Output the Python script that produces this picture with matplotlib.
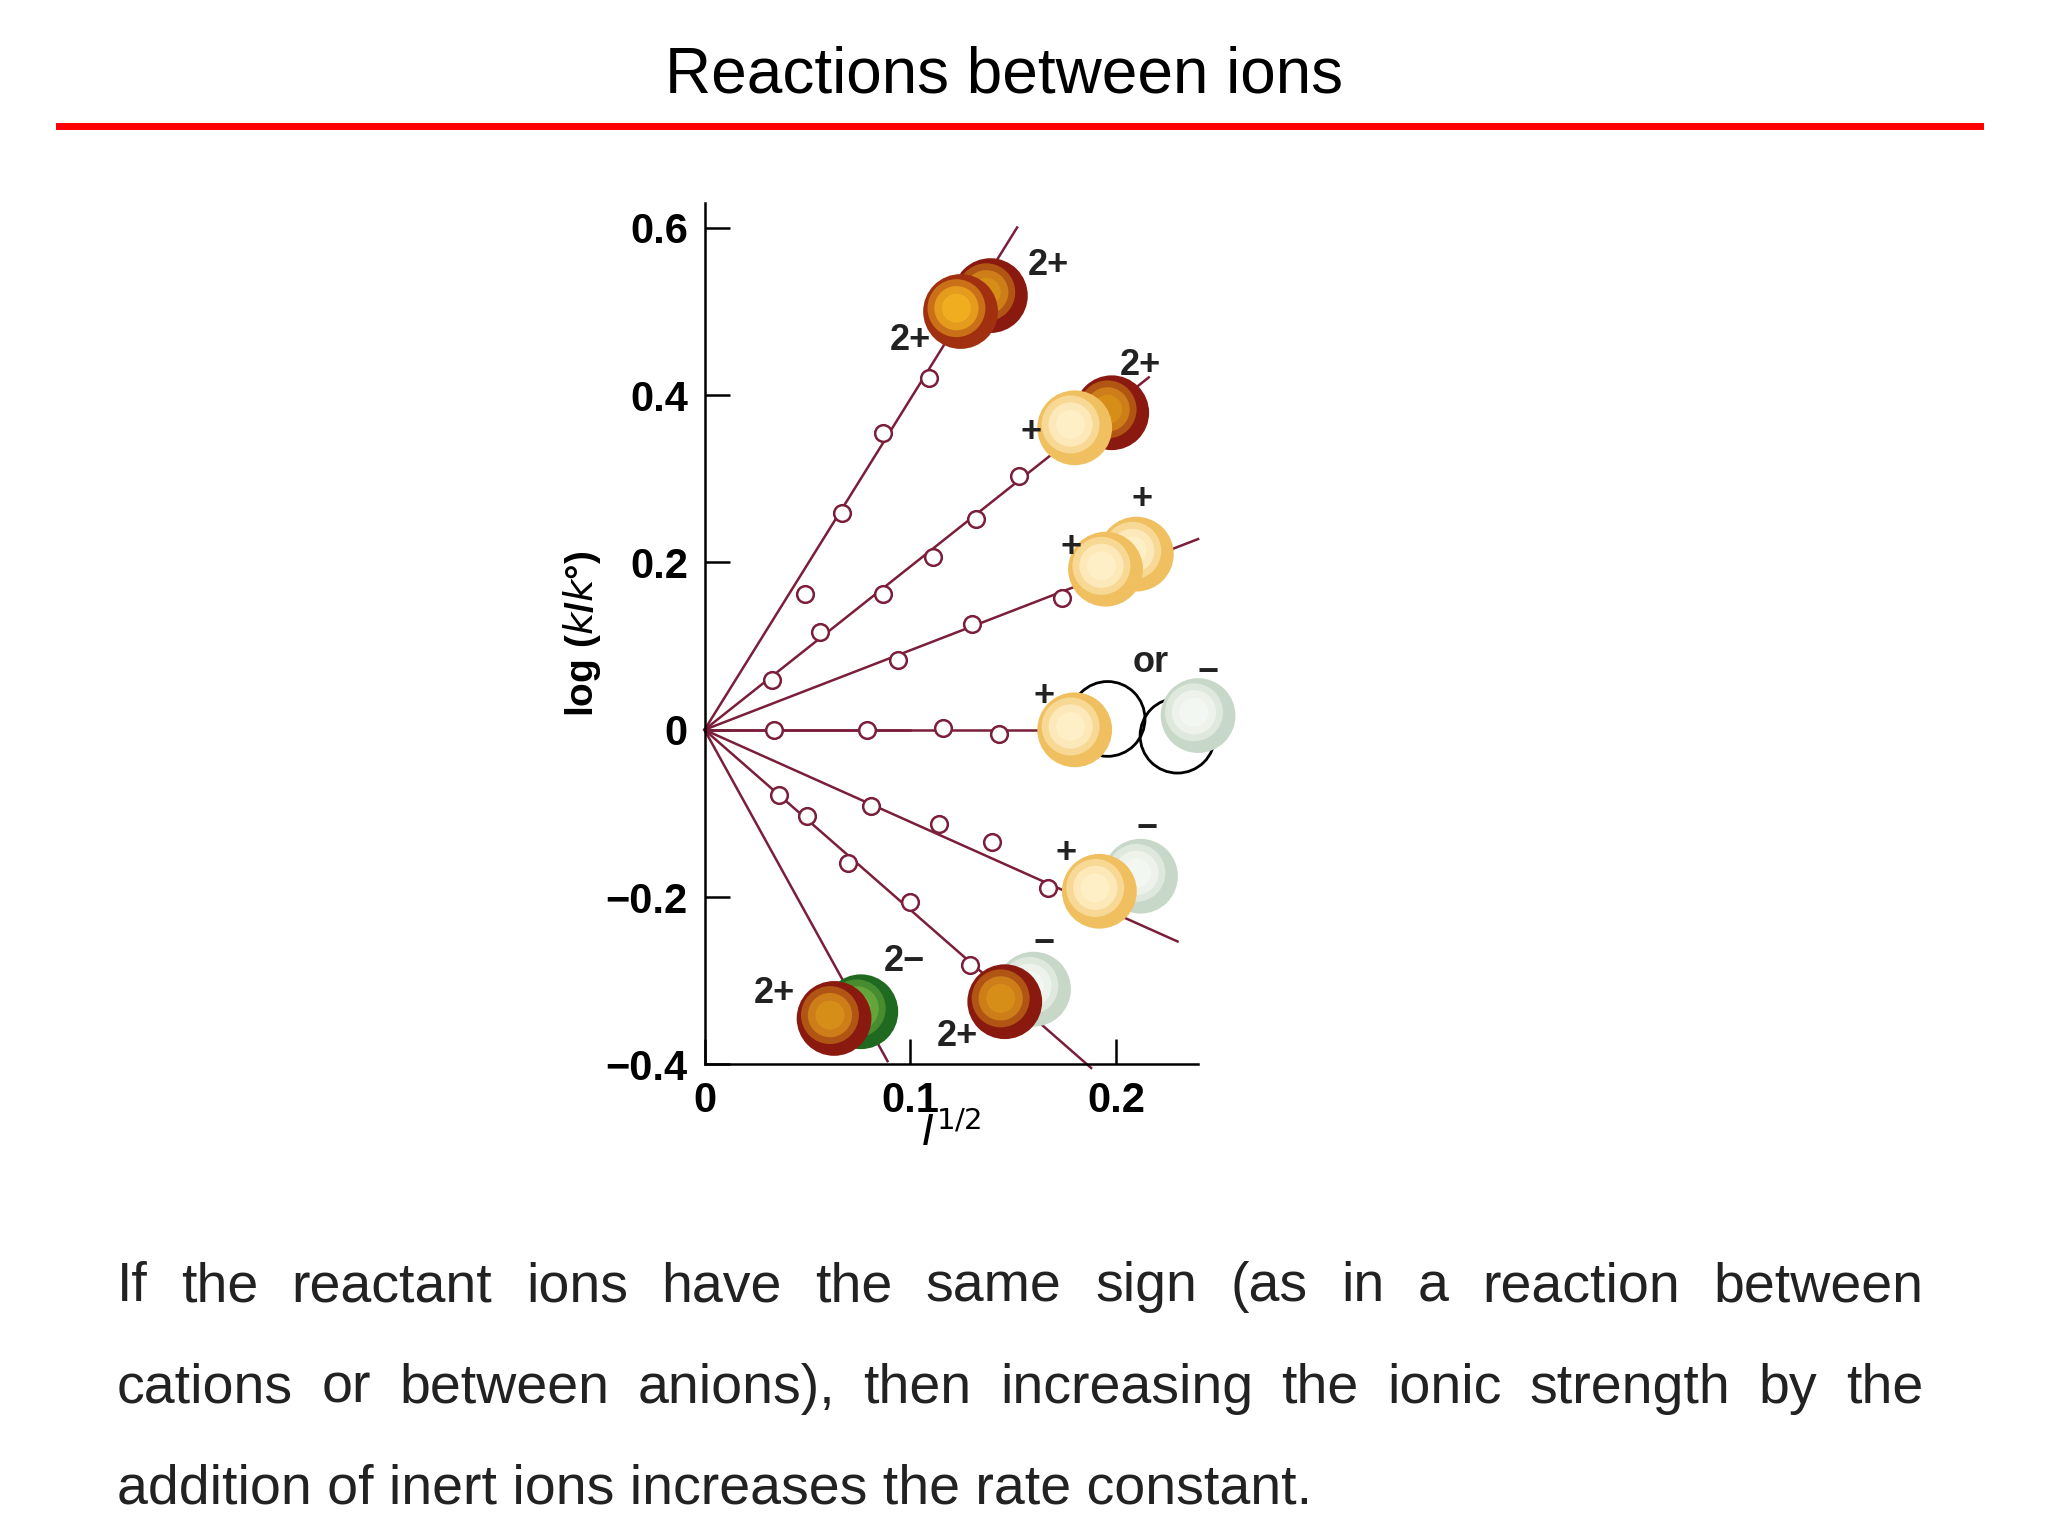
import matplotlib
matplotlib.use("Agg")
import matplotlib.pyplot as plt
import numpy as np
from matplotlib.lines import Line2D

plt.rcParams['font.family'] = ['Liberation Sans', 'DejaVu Sans']

# data
slopes = [3.95, 1.95, 0.95, 0.0, -1.1, -2.15, -4.45]
line_ends = [0.152, 0.216, 0.24, 0.10, 0.23, 0.188, 0.089]
pts_x = [[0.049, 0.067, 0.087, 0.109],
         [0.033, 0.056, 0.087, 0.111, 0.132, 0.153],
         [0.094, 0.130, 0.174],
         [0.034, 0.079, 0.116, 0.143],
         [0.081, 0.114, 0.140, 0.167],
         [0.036, 0.050, 0.070, 0.100, 0.129],
         []]
pts_y = [[0.1625, 0.259, 0.355, 0.42],
         [0.059, 0.117, 0.1625, 0.206, 0.252, 0.303],
         [0.083, 0.127, 0.158],
         [0.0, 0.0, 0.002, -0.005],
         [-0.091, -0.1125, -0.134, -0.189],
         [-0.078, -0.103, -0.159, -0.206, -0.281],
         []]
yticks = [-0.4, -0.2, 0, 0.2, 0.4, 0.6]
yticklabels = ['\u22120.4', '\u22120.2', '0', '0.2', '0.4', '0.6']
xticks = [0, 0.1, 0.2]
xticklabels = ['0', '0.1', '0.2']

# spheres: (x, y, color_type)
spheres = [(0.139, 0.519, 'dark'), (0.1245, 0.50, 'orange'),
           (0.198, 0.379, 'dark'), (0.180, 0.361, 'pale'),
           (0.210, 0.210, 'pale'), (0.195, 0.192, 'pale'),
           (0.240, 0.017, 'green_pale'), (0.180, 0.0, 'pale'),
           (0.212, -0.175, 'green_pale'), (0.192, -0.193, 'pale'),
           (0.160, -0.310, 'green_pale'), (0.146, -0.325, 'dark'),
           (0.076, -0.337, 'green'), (0.063, -0.345, 'dark')]
open_circles = [(0.196, 0.013), (0.230, -0.007)]
labels = [(0.167, 0.555, '2+'), (0.100, 0.465, '2+'), (0.212, 0.435, '2+'),
          (0.159, 0.355, '+'), (0.213, 0.275, '+'), (0.178, 0.218, '+'),
          (0.217, 0.080, 'or'), (0.245, 0.068, '\u2212'), (0.165, 0.04, '+'),
          (0.176, -0.148, '+'), (0.215, -0.118, '\u2212'), (0.165, -0.255, '\u2212'),
          (0.097, -0.277, '2\u2212'), (0.034, -0.315, '2+'), (0.123, -0.367, '2+')]

colors = {'dark': ('#8a1a10', '#d9901a'), 'orange': ('#a03010', '#f2b020'),
          'pale': ('#f0c060', '#fff0c8'), 'green_pale': ('#c8d8c8', '#f4f8f2'),
          'green': ('#1f6a20', '#70b040')}

fig = plt.figure(figsize=(20.48, 15.36), dpi=100)
fig.text(0.49, 0.951, 'Reactions between ions', ha='center', va='center', fontsize=46)
fig.add_artist(Line2D([0.029, 0.967], [0.918, 0.918], color='#ff0000', lw=5))

ax = fig.add_axes([0.344, 0.307, 0.241, 0.561])
ax.set_xlim(0, 0.24)
ax.set_ylim(-0.4, 0.63)
lc = '#7a1e3a'
for s, e, px, py in zip(slopes, line_ends, pts_x, pts_y):
    ax.plot([0, e], [0, s * e], color=lc, lw=1.8, zorder=2, clip_on=False)
    ax.plot(px, py, 'o', mfc='white', mec=lc, mew=1.8, ms=12, zorder=3)
ax.plot([0, 0.18], [0, 0], color=lc, lw=1.8, zorder=2)

R = 2900
for x, y, t in spheres:
    c1, c2 = colors[t]
    ax.scatter([x], [y], s=R, color=c1, zorder=5, edgecolors='none', clip_on=False)
    for f, a in [(0.6, 0.5), (0.35, 0.7), (0.15, 0.9)]:
        ax.scatter([x - 0.002], [y + 0.004], s=R * f, color=c2, alpha=a, zorder=5,
                   edgecolors='none', clip_on=False)
for x, y in open_circles:
    ax.scatter([x], [y], s=R, facecolors='none', edgecolors='black', linewidths=2,
               zorder=4, clip_on=False)
for x, y, t in labels:
    ax.text(x, y, t, fontsize=26, fontweight='bold', ha='center', va='center', zorder=6,
            color='#222222', clip_on=False)

for sp in ['top', 'right']:
    ax.spines[sp].set_visible(False)
ax.spines['left'].set_linewidth(1.8)
ax.spines['bottom'].set_linewidth(1.8)
ax.set_yticks(yticks)
ax.set_yticklabels(yticklabels)
ax.set_xticks(xticks)
ax.set_xticklabels(xticklabels)
ax.tick_params(direction='in', length=18, width=1.8, labelsize=30, pad=12)
for lab in ax.get_xticklabels() + ax.get_yticklabels():
    lab.set_fontweight('bold')
ax.set_ylabel(r'log ($\mathbf{\it{k}}$/$\mathbf{\it{k}}$°)', fontsize=28, fontweight='bold', labelpad=2)
ax.set_xlabel(r'$I^{1/2}$', fontsize=30, labelpad=-6)

# body text, justified
lines = ["If the reactant ions have the same sign (as in a reaction between",
         "cations or between anions), then increasing the ionic strength by the",
         "addition of inert ions increases the rate constant."]
ys = [0.162, 0.096, 0.030]
x0, x1 = 0.057, 0.939
fs = 40
fig.canvas.draw()
r = fig.canvas.get_renderer()
W = fig.get_figwidth() * fig.dpi
for i, (ln, y) in enumerate(zip(lines, ys)):
    words = ln.split()
    if i == len(lines) - 1:
        fig.text(x0, y, ln, fontsize=fs, va='center', color='#222222')
        continue
    ts = [fig.text(0, y, w, fontsize=fs, va='center', color='#222222') for w in words]
    widths = [t.get_window_extent(r).width / W for t in ts]
    gap = (x1 - x0 - sum(widths)) / (len(words) - 1)
    xx = x0
    for t, w in zip(ts, widths):
        t.set_x(xx)
        xx += w + gap

fig.savefig('out.png', dpi=100)
